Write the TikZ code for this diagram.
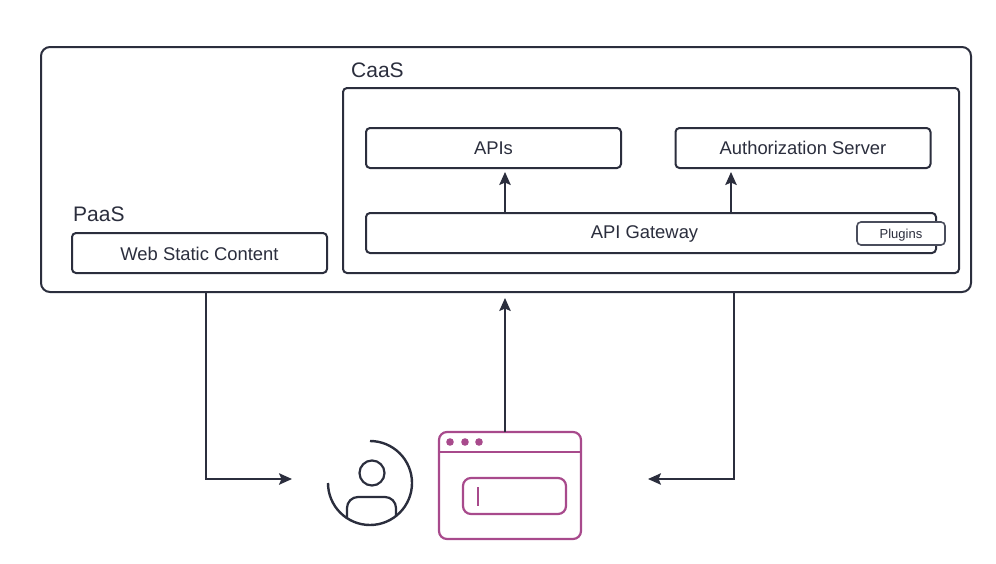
\documentclass[tikz,border=0pt]{standalone}
\usepackage{fontspec}
\setmainfont{Liberation Sans}
\usepackage{xcolor}
\usetikzlibrary{arrows.meta}
\definecolor{dgInk}{HTML}{2B2E3D}
\definecolor{dgMute}{HTML}{4A4D5C}
\definecolor{dgPlum}{HTML}{A84A8C}

\begin{document}
\begin{tikzpicture}[
  x=1pt, y=-1pt,
  font=\fontsize{18.4}{21}\selectfont,
  box/.style={draw=dgInk, line width=2pt, rounded corners=4pt, align=center,
              inner sep=0pt, outer sep=0pt, fill=white, text=dgInk},
  wide/.style={box, minimum width=255pt, minimum height=40pt, text height=17pt, text depth=5pt},
  small/.style={box, draw=dgMute, line width=1.6pt, minimum width=88pt, minimum height=23pt,
                font=\fontsize{13}{15}\selectfont, text height=13pt, text depth=3pt},
  plum/.style={draw=dgPlum, line width=2.2pt, rounded corners=8pt, inner sep=0pt, outer sep=0pt},
  arr/.style={-{Stealth[length=13pt, width=11.5pt, inset=2.5pt]}, line width=1.8pt, dgInk},
  lab/.style={font=\fontsize{21}{24}\selectfont, text=dgInk, inner sep=0pt, anchor=base west}
]
  \useasboundingbox (0,0) rectangle (996,563);

  \node[box, rounded corners=9pt, minimum width=930pt, minimum height=245pt] (paas) at (506,169.5) {};
  \node[box, minimum width=616pt, minimum height=185pt] (caas) at (651,180.5) {};
  \node[wide] (apis) at (493.5,148) {APIs};
  \node[wide] (authz) at (803,148) {Authorization Server};
  \node[wide, minimum width=570pt, text height=16pt, text depth=6pt] (gateway) at (651,233) {API Gateway\hspace*{13pt}};
  \node[small] (plugins) at (901,233.5) {Plugins};
  \node[wide, text height=18pt, text depth=4pt] (static) at (199.5,253) {Web Static Content};
  \node[lab] (caaslab) at (351,77) {CaaS};
  \node[lab] (paaslab) at (73,221) {PaaS};

  % user
  \coordinate (person) at (370,483);
  \draw[dgInk, line width=2.4pt] (person) ++(0,-42) arc[start angle=-90, end angle=180, radius=42];
  \node[draw=dgInk, line width=2.2pt, circle, minimum size=25pt, inner sep=0pt] (head) at (372,473) {};
  \draw[dgInk, line width=2.2pt, rounded corners=11pt] (347,518) -- (347,497) -- (396,497) -- (396,516);

  % browser
  \node[plum, minimum width=142pt, minimum height=107pt] (browser) at (510,485.5) {};
  \draw[dgPlum, line width=2.2pt] (browser.west |- 0,452) -- (browser.east |- 0,452);
  \foreach \dotx in {450,465,479}
    \fill[dgPlum] (\dotx,442) circle (3.8pt);
  \node[plum, minimum width=103pt, minimum height=36pt] (input) at (514.5,496) {};
  \draw[dgPlum, line width=1.8pt] (478,487) -- (478,506);

  \coordinate (toperson) at (292,479);
  \coordinate (tobrowser) at (648,479);

  \draw[arr] (gateway.north -| 505,0) -- ([yshift=-4pt]apis.south -| 505,0);
  \draw[arr] (gateway.north -| 731,0) -- ([yshift=-4pt]authz.south -| 731,0);
  \draw[arr] (browser.north -| 505,0) -- ([yshift=-6pt]paas.south -| 505,0);
  \draw[arr] (paas.south -| 206,0) |- (toperson);
  \draw[arr] (paas.south -| 734,0) |- (tobrowser);
\end{tikzpicture}
\end{document}
